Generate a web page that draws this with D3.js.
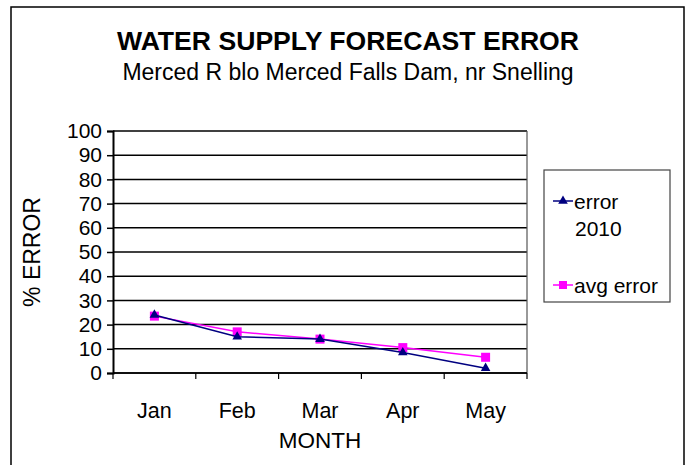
<!DOCTYPE html>
<html>
<head>
<meta charset="utf-8">
<script src="https://cdn.jsdelivr.net/npm/d3@7"></script>
<style>
 body { margin: 0; background: #fff; }
 text { font-family: "Liberation Sans", Arial, sans-serif; fill: #000; }
</style>
</head>
<body>
<svg width="691" height="465"></svg>
<script>
'use strict';
// data
const months = ['Jan', 'Feb', 'Mar', 'Apr', 'May'];
const error2010 = [24, 15, 14, 8.5, 2];
const avgError = [23.5, 17, 14, 10.5, 6.5];
const yTicks = [0, 10, 20, 30, 40, 50, 60, 70, 80, 90, 100];

const svg = d3.select('svg');

// outer frame
svg.append('rect')
  .attr('x', 11).attr('y', 7)
  .attr('width', 673).attr('height', 470)
  .attr('fill', 'none').attr('stroke', '#000').attr('stroke-width', 1.5);

// titles
svg.append('text')
  .attr('x', 348).attr('y', 50)
  .attr('text-anchor', 'middle')
  .attr('font-size', 26.6).attr('font-weight', 'bold')
  .text('WATER SUPPLY FORECAST ERROR');
svg.append('text')
  .attr('x', 348).attr('y', 80)
  .attr('text-anchor', 'middle')
  .attr('font-size', 23)
  .text('Merced R blo Merced Falls Dam, nr Snelling');

// plot area
const plot = { left: 113, right: 527, top: 131, bottom: 373 };

const x = d3.scaleBand()
  .domain(months)
  .range([plot.left, plot.right]);
const y = d3.scaleLinear()
  .domain([0, 100])
  .range([plot.bottom, plot.top]);

const g = svg.append('g');

// gridlines
g.selectAll('.grid')
  .data(yTicks)
  .join('line')
  .attr('x1', plot.left).attr('x2', plot.right)
  .attr('y1', d => y(d)).attr('y2', d => y(d))
  .attr('stroke', '#000').attr('stroke-width', 1.5);

// right border
g.append('line')
  .attr('x1', plot.right).attr('x2', plot.right)
  .attr('y1', plot.top).attr('y2', plot.bottom)
  .attr('stroke', '#555').attr('stroke-width', 1.2);

// y axis
const yAxis = g.append('g')
  .attr('transform', `translate(${plot.left},0)`)
  .call(d3.axisLeft(y).tickValues(yTicks).tickSize(6).tickPadding(5));
yAxis.select('.domain').attr('stroke-width', 2);
yAxis.selectAll('.tick line').attr('stroke-width', 1.5);
yAxis.selectAll('text').attr('font-size', 21)
  .style('font-family', '"Liberation Sans", Arial, sans-serif');

// x axis with ticks between categories
const xAxis = g.append('g')
  .attr('transform', `translate(0,${plot.bottom})`);
xAxis.append('line')
  .attr('x1', plot.left).attr('x2', plot.right)
  .attr('stroke', '#000').attr('stroke-width', 1.5);
const bounds = months.map(m => x(m)).concat([plot.right]);
xAxis.selectAll('.sep')
  .data(bounds)
  .join('line')
  .attr('x1', d => d).attr('x2', d => d)
  .attr('y1', 0).attr('y2', 6)
  .attr('stroke', '#000').attr('stroke-width', 1.2);
xAxis.selectAll('.lab')
  .data(months)
  .join('text')
  .attr('x', d => x(d) + x.bandwidth() / 2)
  .attr('y', 45)
  .attr('text-anchor', 'middle')
  .attr('font-size', 21.5)
  .text(d => d);

// axis titles
svg.append('text')
  .attr('x', 320).attr('y', 448)
  .attr('text-anchor', 'middle')
  .attr('font-size', 22.5)
  .text('MONTH');
svg.append('text')
  .attr('transform', 'translate(40,252) rotate(-90)')
  .attr('text-anchor', 'middle')
  .attr('font-size', 23)
  .text('% ERROR');

// series
const cx = (d, i) => x(months[i]) + x.bandwidth() / 2;
const line = d3.line().x(cx).y(d => y(d));

g.append('path')
  .attr('d', line(avgError))
  .attr('fill', 'none').attr('stroke', '#ff00ff').attr('stroke-width', 1.5);
g.selectAll('.sq')
  .data(avgError)
  .join('rect')
  .attr('x', (d, i) => cx(d, i) - 4.5).attr('y', d => y(d) - 4.5)
  .attr('width', 9).attr('height', 9)
  .attr('fill', '#ff00ff');

g.append('path')
  .attr('d', line(error2010))
  .attr('fill', 'none').attr('stroke', '#000080').attr('stroke-width', 1.5);
const tri = d3.symbol().type(d3.symbolTriangle).size(40);
g.selectAll('.tri')
  .data(error2010)
  .join('path')
  .attr('d', tri)
  .attr('transform', (d, i) => `translate(${cx(d, i)},${y(d)})`)
  .attr('fill', '#000080');

// legend
const leg = svg.append('g');
leg.append('rect')
  .attr('x', 544).attr('y', 170)
  .attr('width', 126).attr('height', 132)
  .attr('fill', '#fff').attr('stroke', '#444').attr('stroke-width', 1.2);

leg.append('line')
  .attr('x1', 553).attr('x2', 573).attr('y1', 201).attr('y2', 201)
  .attr('stroke', '#000080').attr('stroke-width', 1.5);
leg.append('path')
  .attr('d', tri)
  .attr('transform', 'translate(563,201)')
  .attr('fill', '#000080');
leg.append('text')
  .attr('x', 574).attr('y', 209)
  .attr('font-size', 21).text('error');
leg.append('text')
  .attr('x', 575).attr('y', 236)
  .attr('font-size', 21).text('2010');

leg.append('line')
  .attr('x1', 553).attr('x2', 573).attr('y1', 285).attr('y2', 285)
  .attr('stroke', '#ff00ff').attr('stroke-width', 1.5);
leg.append('rect')
  .attr('x', 559).attr('y', 281).attr('width', 8).attr('height', 8)
  .attr('fill', '#ff00ff');
leg.append('text')
  .attr('x', 574).attr('y', 293)
  .attr('font-size', 21).text('avg error');
</script>
</body>
</html>
